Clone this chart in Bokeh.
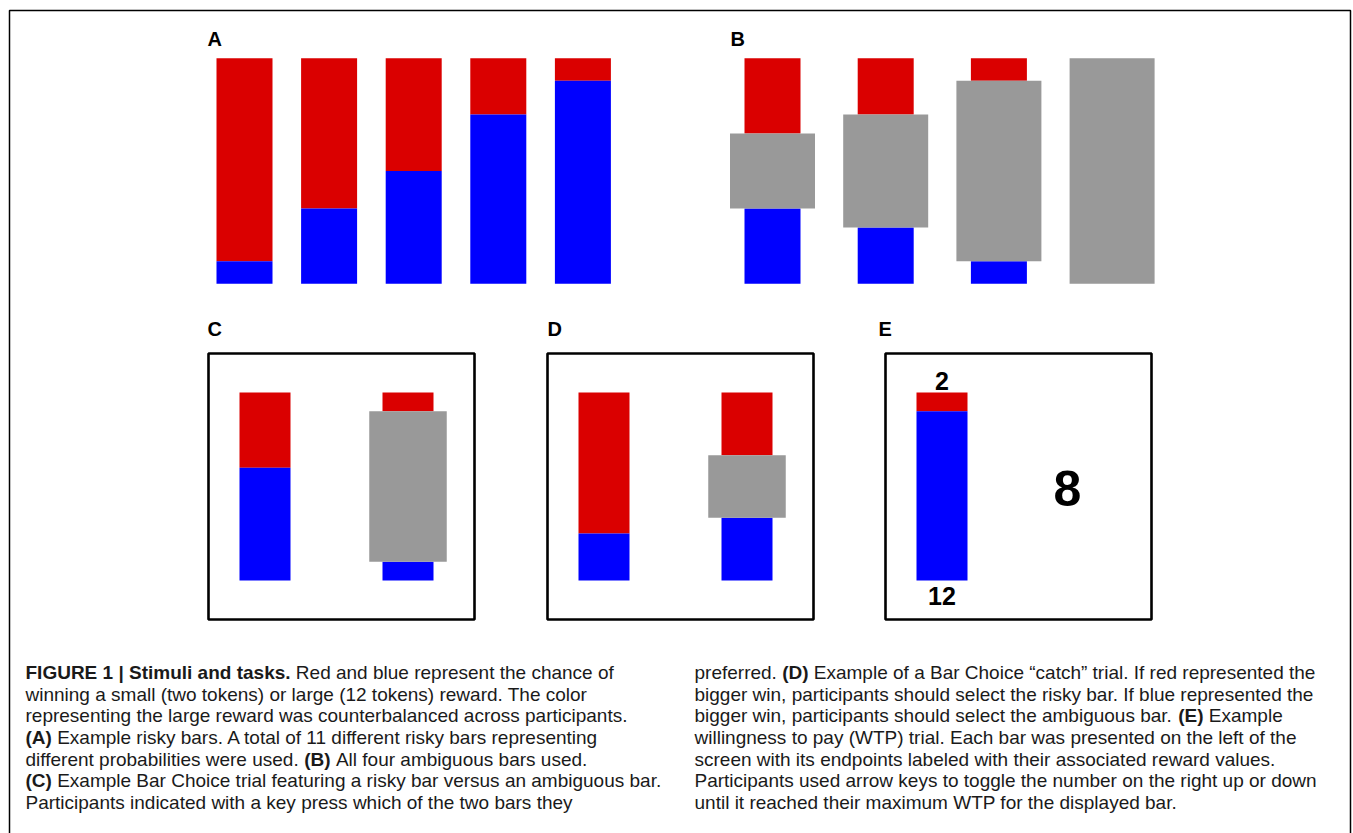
from bokeh.plotting import figure
from bokeh.models import Range1d
from bokeh.embed import file_html
from bokeh.resources import INLINE
from bokeh.core.properties import value

# ------------------------------------------------------------------ data
RED, BLUE, GRAY = "#da0000", "#0000ff", "#999999"

panel_labels = ["A", "B", "C", "D", "E"]

# Panel A: five example risky bars, blue share (from the bottom)
risky_blue_A = [0.10, 1 / 3, 0.50, 0.75, 0.90]

# Panel B: four ambiguous bars, share hidden by the gray occluder
ambig_level_B = [1 / 3, 0.50, 0.80, 1.00]
ambig_under_blue_B = [0.50, 0.50, 0.50, 0.50]

# Panel C: risky bar vs ambiguous bar
C_risky_blue = 0.60
C_ambig_level = 0.80
# Panel D: catch trial
D_risky_blue = 0.25
D_ambig_level = 1 / 3
# Panel E: WTP trial
E_blue = 0.90
E_top_label = "2"
E_bottom_label = "12"
E_wtp_value = "8"

B_, N_ = True, False
caption_left = [
    [("FIGURE 1 | Stimuli and tasks.", B_), (" Red and blue represent the chance of", N_)],
    [("winning a small (two tokens) or large (12 tokens) reward. The color", N_)],
    [("representing the large reward was counterbalanced across participants.", N_)],
    [("(A)", B_), (" Example risky bars. A total of 11 different risky bars representing", N_)],
    [("different probabilities were used. ", N_), ("(B)", B_), (" All four ambiguous bars used.", N_)],
    [("(C)", B_), (" Example Bar Choice trial featuring a risky bar versus an ambiguous bar.", N_)],
    [("Participants indicated with a key press which of the two bars they", N_)],
]
caption_right = [
    [("preferred. ", N_), ("(D)", B_), (" Example of a Bar Choice \u201ccatch\u201d trial. If red represented the", N_)],
    [("bigger win, participants should select the risky bar. If blue represented the", N_)],
    [("bigger win, participants should select the ambiguous bar. ", N_), ("(E)", B_), (" Example", N_)],
    [("willingness to pay (WTP) trial. Each bar was presented on the left of the", N_)],
    [("screen with its endpoints labeled with their associated reward values.", N_)],
    [("Participants used arrow keys to toggle the number on the right up or down", N_)],
    [("until it reached their maximum WTP for the displayed bar.", N_)],
]

# ------------------------------------------------------------------ font metrics (Arial / Liberation Sans, 1/1000 em)
REG, BOLD = {}, {}
for chars, w in [("abdeghnopqu", 556), ("cksvxyz", 500), ("ft", 278), ("ijl", 222), ("m", 833),
                 ("r", 333), ("w", 722), ("ABEKPSVXY", 667), ("CDHNRU", 722), ("FTZ", 611),
                 ("GOQ", 778), ("I", 278), ("J", 500), ("L", 556), ("M", 833), ("W", 944),
                 (" .,:;!/", 278), ("()-\u201c\u201d", 333), ("0123456789", 556), ("|", 260)]:
    for ch in chars:
        REG[ch] = w
for chars, w in [("acekvxy", 556), ("s", 556), ("z", 500), ("bdghnopqu", 611), ("ft", 333),
                 ("ijl", 278), ("m", 889), ("r", 389), ("w", 778), ("ABCDHKNRU", 722),
                 ("EPSVXY", 667), ("FTZL", 611), ("GOQ", 778), ("I", 278), ("J", 556),
                 ("M", 833), ("W", 944), (" .,:;!/", 278), ("()-", 333), ("0123456789", 556),
                 ("|", 280)]:
    for ch in chars:
        BOLD[ch] = w


def text_width(s, bold, size):
    tbl = BOLD if bold else REG
    return sum(tbl.get(ch, 556) for ch in s) * size / 1000.0


# ------------------------------------------------------------------ figure
W, H = 1353, 833
p = figure(width=W, height=H, x_range=Range1d(0, W), y_range=Range1d(H, 0),
           output_backend="svg", toolbar_location=None, min_border=0,
           x_axis_type=None, y_axis_type=None)
p.outline_line_color = None
p.background_fill_color = "white"
p.border_fill_color = "white"
p.grid.visible = False

FONT = value("Liberation Sans")

# outer frame (open at the bottom, continues past the page)
p.line(x=[9, 9, 1350, 1350], y=[850, 10, 10, 850], line_color="black", line_width=1.5)

quads = {RED: dict(l=[], r=[], t=[], b=[]), BLUE: dict(l=[], r=[], t=[], b=[]),
         GRAY: dict(l=[], r=[], t=[], b=[])}


def add_quad(color, cx, w, y_a, y_b):
    if abs(y_a - y_b) < 0.01:
        return
    q = quads[color]
    q["l"].append(cx - w / 2)
    q["r"].append(cx + w / 2)
    q["t"].append(min(y_a, y_b))
    q["b"].append(max(y_a, y_b))


def scale(bottom, top):
    return lambda f: bottom - f * (bottom - top)


def risky_bar(cx, w, blue, fy):
    add_quad(BLUE, cx, w, fy(0), fy(blue))
    add_quad(RED, cx, w, fy(blue), fy(1))


def ambig_bar(cx, w, gw, level, under_blue, fy):
    lo, hi = 0.5 - level / 2, 0.5 + level / 2
    # only the parts of the risky bar that stay visible around the occluder
    add_quad(BLUE, cx, w, fy(0), fy(min(under_blue, lo)))
    add_quad(RED, cx, w, fy(max(under_blue, hi)), fy(1))
    add_quad(GRAY, cx, gw, fy(lo), fy(hi))


# Panel A
fyA = scale(283.3, 57.7)
for i, b in enumerate(risky_blue_A):
    risky_bar(244.0 + i * 84.6, 56, b, fyA)

# Panel B
for i, (lv, ub) in enumerate(zip(ambig_level_B, ambig_under_blue_B)):
    ambig_bar(772.0 + i * 113.2, 56, 85, lv, ub, fyA)

# Panels C, D, E (boxed screens)
box_left = [208, 547, 885]
box_w, box_top, box_bot = 266, 353, 619
fyS = scale(580, 392)
risky_bar(box_left[0] + 56.5, 51, C_risky_blue, fyS)
ambig_bar(box_left[0] + 199.5, 51, 77.5, C_ambig_level, 0.5, fyS)
risky_bar(box_left[1] + 56.5, 51, D_risky_blue, fyS)
ambig_bar(box_left[1] + 199.5, 51, 77.5, D_ambig_level, 0.5, fyS)
risky_bar(box_left[2] + 56.5, 51, E_blue, fyS)

for color in (RED, BLUE, GRAY):
    q = quads[color]
    p.quad(left=q["l"], right=q["r"], top=q["t"], bottom=q["b"], fill_color=color,
           line_color=None)

p.quad(left=box_left, right=[x + box_w for x in box_left], top=[box_top] * 3,
       bottom=[box_bot] * 3, fill_color=None, line_color="black", line_width=2.6)

# panel letters
p.text(x=[207, 730, 207, 547, 878], y=[38, 38, 328, 328, 328], text=panel_labels,
       text_font=FONT, text_font_style="bold", text_font_size="20px",
       text_baseline="middle", text_align="left", text_color="black")

# WTP panel texts
ex = box_left[2] + 56.5
p.text(x=[ex, ex], y=[380, 595], text=[E_top_label, E_bottom_label], text_font=FONT,
       text_font_style="bold", text_font_size="25px", text_baseline="middle",
       text_align="center", text_color="black")
p.text(x=[box_left[2] + 182], y=[488], text=[E_wtp_value], text_font=FONT,
       text_font_style="bold", text_font_size="50px", text_baseline="middle",
       text_align="center", text_color="black")

# caption
CAP_SIZE = 19
seg = {True: dict(x=[], y=[], t=[]), False: dict(x=[], y=[], t=[])}
for x0, lines in ((25, caption_left), (694, caption_right)):
    for li, line in enumerate(lines):
        y = 672 + li * 21.65
        x = x0
        for s, bold in line:
            lead = len(s) - len(s.lstrip(" "))
            xs = x + text_width(" " * lead, bold, CAP_SIZE)
            seg[bold]["x"].append(xs)
            seg[bold]["y"].append(y)
            seg[bold]["t"].append(s.strip(" "))
            x += text_width(s, bold, CAP_SIZE)
for bold in (False, True):
    d = seg[bold]
    p.text(x=d["x"], y=d["y"], text=d["t"], text_font=FONT,
           text_font_style="bold" if bold else "normal", text_font_size=f"{CAP_SIZE}px",
           text_baseline="middle", text_align="left", text_color="#1a1a1a")

open("out.html", "w").write(file_html(p, INLINE))
